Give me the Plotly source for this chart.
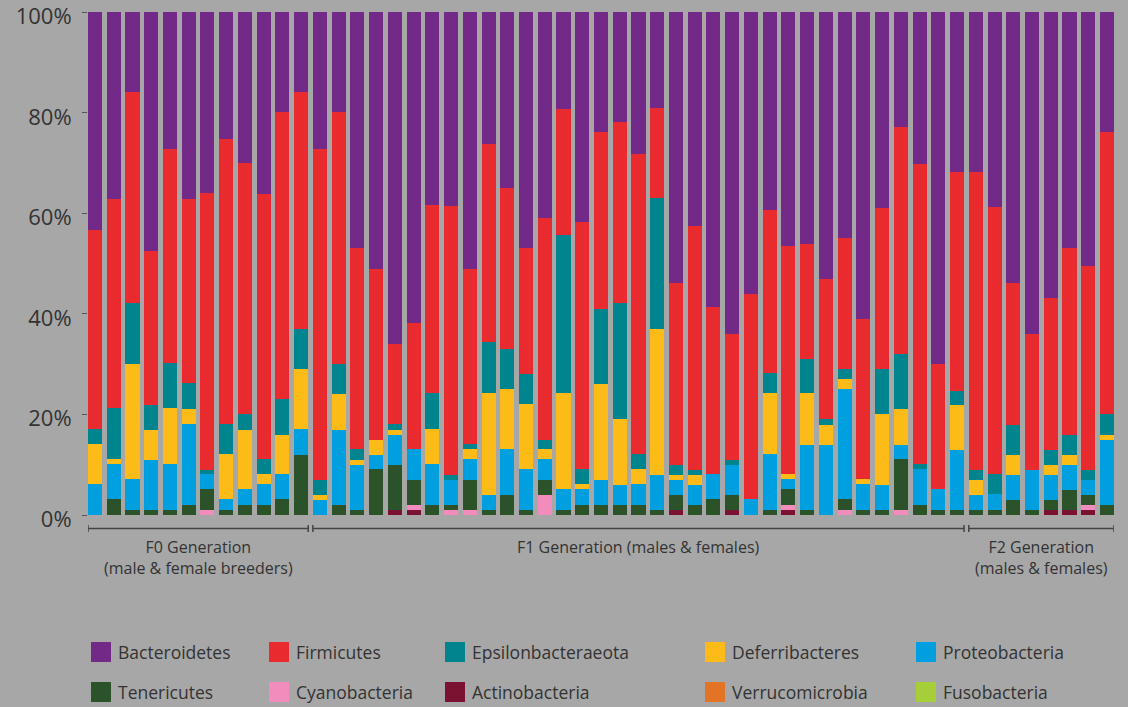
import plotly.graph_objects as go

# ---- data: relative abundance (%) per sample, 55 samples ----
samples = [f"S{i+1}" for i in range(55)]

actinobacteria = [0,0,0,0,0,0,0,0,0,0,0,0,
                  0,0,0,0,1.0,1.0,0,0,0,0,0,0,0,0,0,0,0,0,0,1.0,0,0,1.0,0,0,1.0,0,0,0,0,0,0,0,0,0,
                  0,0,0,0,1.0,1.0,1.0,0]
cyanobacteria = [0,0,0,0,0,0,0.9,0,0,0,0,0,
                 0,0,0,0,0,1.0,0,0.9,0.9,0,0,0,4.0,0,0,0,0,0,0,0,0,0,0,0,0,1.0,0,0,0.9,0,0,0.9,0,0,0,
                 0,0,0,0,0,0,0.9,0]
tenericutes = [0,3.1,1.0,1.0,1.0,2.0,4.2,1.0,2.0,2.0,3.1,12.0,
               0,2.0,1.0,9.1,9.0,5.0,2.0,1.1,6.1,1.0,4.0,1.0,3.0,1.0,2.0,2.0,2.0,2.0,1.0,3.0,2.0,3.1,3.0,0,1.0,3.1,1.0,0,2.2,1.0,1.0,10.2,2.0,1.0,1.0,
               1.0,1.0,3.0,1.0,2.0,4.0,2.1,2.0]
proteobacteria = [6.1,7.0,6.1,9.9,9.2,16.2,3.1,2.1,3.1,4.1,5.1,5.1,
                  3.0,15.0,9.0,2.9,5.9,6.1,8.1,5.0,4.1,3.0,9.1,8.1,4.1,4.1,3.1,5.0,4.0,4.1,7.0,3.0,4.0,5.0,6.0,3.1,11.1,2.0,13.0,14.0,21.9,5.1,5.0,2.9,7.2,4.1,11.9,
                  3.0,3.1,5.0,8.0,5.0,5.0,3.0,13.0]
deferribacteres = [8.0,1.0,22.9,6.0,11.0,2.9,0,9.0,11.9,2.0,7.8,12.0,
                   1.0,7.1,0.9,3.0,1.1,0,7.1,0,2.0,20.2,11.9,12.9,2.0,19.1,1.0,19.0,13.0,3.0,29.0,1.0,1.9,0,0,0,12.1,1.1,10.2,4.0,2.1,1.0,14.1,7.0,0,0,8.9,
                   3.0,0,4.0,0,2.0,2.0,0,1.0]
epsilonbacteraeota = [3.0,10.1,12.1,4.9,9.1,5.1,0.8,6.1,3.0,3.0,7.1,7.9,
                      3.0,5.9,2.2,0,1.1,0,7.0,0.9,1.0,10.2,8.0,6.0,1.9,31.4,3.1,15.0,23.1,3.0,26.0,2.0,1.0,0,1.0,0,4.1,0,6.9,1.0,1.9,0,8.9,11.0,0.9,0,2.9,
                      1.9,4.1,6.0,0,2.9,4.0,1.9,4.0]
firmicutes = [39.6,41.6,42.0,30.7,42.5,36.6,55.1,56.6,50.1,52.7,57.0,47.1,
              65.8,50.1,40.0,34.0,15.9,25.0,37.5,53.5,34.9,39.4,32.1,25.1,44.0,25.2,49.0,35.1,36.0,59.7,18.0,36.1,48.6,33.3,25.1,40.8,32.3,45.4,22.9,28.0,26.0,31.9,32.0,45.1,59.7,25.0,43.6,
              59.4,53.1,28.1,27.1,30.2,37.1,40.7,56.1]
bacteroidetes = [43.3,37.2,15.9,47.5,27.2,37.2,35.9,25.2,29.9,36.2,19.9,15.9,
                 27.2,19.9,46.9,51.0,66.0,61.9,38.3,38.6,51.0,26.2,34.9,46.9,41.0,19.2,41.8,23.9,21.9,28.2,19.0,53.9,42.5,58.6,63.9,56.1,39.4,46.4,46.0,53.0,45.0,61.0,39.0,22.9,30.2,69.9,31.7,
                 31.7,38.7,53.9,63.9,56.9,46.9,50.4,23.9]
verrucomicrobia = [0] * 55
fusobacteria = [0] * 55

# sample groups: (label, first index, last index)
group_labels = ["F0 Generation<br>(male & female breeders)",
                "F1 Generation (males & females)",
                "F2 Generation<br>(males & females)"]
group_first = [0, 12, 47]
group_last = [11, 46, 54]

y_ticks = [0, 20, 40, 60, 80, 100]
y_tick_text = ["0%", "20%", "40%", "60%", "80%", "100%"]

# stacking order, bottom to top
stack = [
    ("Actinobacteria", actinobacteria, "#7b1232"),
    ("Cyanobacteria", cyanobacteria, "#f28cbc"),
    ("Tenericutes", tenericutes, "#2b5229"),
    ("Proteobacteria", proteobacteria, "#009fdf"),
    ("Deferribacteres", deferribacteres, "#fdbb18"),
    ("Epsilonbacteraeota", epsilonbacteraeota, "#00858f"),
    ("Firmicutes", firmicutes, "#e92a2e"),
    ("Bacteroidetes", bacteroidetes, "#722987"),
    ("Verrucomicrobia", verrucomicrobia, "#e37325"),
    ("Fusobacteria", fusobacteria, "#a6ce39"),
]
colors = {name: c for name, _, c in stack}

legend_rows = [
    ["Bacteroidetes", "Firmicutes", "Epsilonbacteraeota", "Deferribacteres", "Proteobacteria"],
    ["Tenericutes", "Cyanobacteria", "Actinobacteria", "Verrucomicrobia", "Fusobacteria"],
]

BG = "#a7a7a7"
TXT = "#333333"
FONT = "Open Sans"

W, H = 1128, 707
ML, MR, MT, MB = 88, 14, 12, 192
PW, PH = W - ML - MR, H - MT - MB


def px_to_paper_x(px):
    return (px - ML) / PW


def px_to_paper_y(py):
    return (H - MB - py) / PH


xs = list(range(len(samples)))

fig = go.Figure()
for name, vals, col in stack:
    fig.add_trace(go.Bar(
        x=xs, y=vals, name=name, marker=dict(color=col, line=dict(width=0)),
        showlegend=False, hovertemplate=name + ": %{y}%<extra></extra>",
    ))

shapes = []
annotations = []

# group brackets under the bars
half = 0.375
y_line = px_to_paper_y(528.5)
y_cap0 = px_to_paper_y(525)
y_cap1 = px_to_paper_y(532)
for lab, a, b in zip(group_labels, group_first, group_last):
    x0, x1 = a - half, b + half
    shapes.append(dict(type="line", xref="x", yref="paper", x0=x0, x1=x1, y0=y_line, y1=y_line,
                       line=dict(color="#444444", width=1.5)))
    for xe in (x0, x1):
        shapes.append(dict(type="line", xref="x", yref="paper", x0=xe, x1=xe, y0=y_cap0, y1=y_cap1,
                           line=dict(color="#444444", width=1.5)))
    annotations.append(dict(xref="x", yref="paper", x=(x0 + x1) / 2, y=px_to_paper_y(534),
                            yanchor="top", xanchor="center", text=lab, showarrow=False,
                            font=dict(family=FONT, size=16, color=TXT)))

# legend: coloured squares with labels, two rows
col_px = [91, 269, 445, 705, 916]
row_py = [652, 692]
for r, row in enumerate(legend_rows):
    for c, name in enumerate(row):
        x0 = col_px[c]
        yc = row_py[r]
        shapes.append(dict(type="rect", xref="paper", yref="paper",
                           x0=px_to_paper_x(x0), x1=px_to_paper_x(x0 + 20),
                           y0=px_to_paper_y(yc - 10), y1=px_to_paper_y(yc + 10),
                           fillcolor=colors[name], line=dict(width=0)))
        annotations.append(dict(xref="paper", yref="paper", x=px_to_paper_x(x0 + 25),
                                y=px_to_paper_y(yc), xanchor="left", yanchor="middle",
                                text=name, showarrow=False,
                                font=dict(family=FONT, size=17.5, color=TXT)))

fig.update_layout(
    width=W, height=H,
    margin=dict(l=ML, r=MR, t=MT, b=MB, pad=0, autoexpand=False),
    paper_bgcolor=BG, plot_bgcolor=BG,
    barmode="stack", bargap=0.25,
    showlegend=False,
    shapes=shapes, annotations=annotations,
    xaxis=dict(range=[-half, len(samples) - 1 + half], showticklabels=False, ticks="",
               showgrid=False, zeroline=False, showline=False, automargin=False),
    yaxis=dict(range=[0, 100.05], tickvals=y_ticks, ticktext=y_tick_text, ticks="outside",
               ticklen=5, tickcolor="#555555", tickwidth=1, ticklabelstandoff=6,
               ticklabeloverflow="allow", ticklabelshift=4, automargin=False,
               showgrid=False, zeroline=False, showline=False,
               tickfont=dict(family=FONT, size=22, color=TXT)),
)

fig.write_html("out.html")
